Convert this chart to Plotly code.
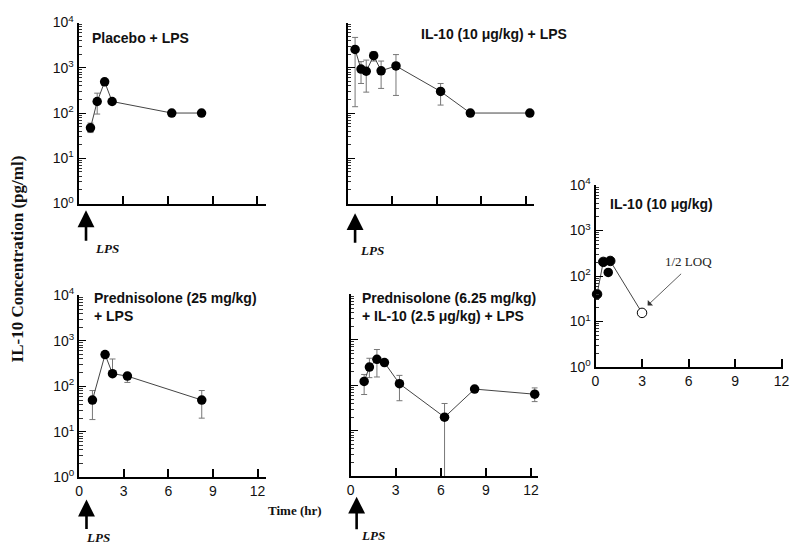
import plotly.graph_objects as go

# ---------------- data ----------------
# Panel 1: Placebo + LPS
t1 = [0.8, 1.25, 1.75, 2.25, 6.25, 8.25]
c1 = [47, 180, 490, 180, 100, 100]
c1_up = [13, 95, 0, 0, 0, 0]
c1_dn = [10, 85, 0, 0, 0, 0]

# Panel 2: IL-10 (10 ug/kg) + LPS
t2 = [0.5, 0.9, 1.25, 1.75, 2.25, 3.25, 6.25, 8.25, 12.25]
c2 = [2550, 940, 840, 1850, 860, 1100, 300, 100, 100]
c2_up = [2150, 430, 640, 450, 550, 860, 150, 0, 0]
c2_dn = [2412, 490, 550, 440, 510, 855, 150, 0, 0]

# Panel 3: Prednisolone (25 mg/kg) + LPS
t3 = [0.9, 1.75, 2.25, 3.25, 8.25]
c3 = [50, 500, 190, 168, 50]
c3_up = [31, 0, 210, 32, 31]
c3_dn = [31.4, 0, 0, 46, 30]

# Panel 4: Prednisolone (6.25 mg/kg) + IL-10 (2.5 ug/kg) + LPS
t4 = [0.9, 1.25, 1.75, 2.25, 3.25, 6.25, 8.25, 12.25]
c4 = [122, 253, 375, 318, 109, 20, 83, 64]
c4_up = [52, 142, 240, 0, 57, 20, 0, 24]
c4_dn = [59, 105, 222, 0, 63, 19.9, 0, 20]

# Panel 5: IL-10 (10 ug/kg)
t5 = [0.1, 0.5, 0.95, 3.0]
c5 = [40, 205, 215, 15.5]
t5_extra = [0.82]
c5_extra = [120]

x_ticks = [0, 3, 6, 9, 12]
x_ticklabels = ["0", "3", "6", "9", "12"]
y_ticks = [1, 10, 100, 1000, 10000]
y_ticklabels = ["10<sup>0</sup>", "10<sup>1</sup>", "10<sup>2</sup>", "10<sup>3</sup>", "10<sup>4</sup>"]
y_minor = [k * 10 ** d for d in range(4) for k in range(2, 10)]

titles = [
    "Placebo + LPS",
    "IL-10 (10 μg/kg) + LPS",
    "Prednisolone (25 mg/kg)<br>+ LPS",
    "Prednisolone (6.25 mg/kg)<br>+ IL-10 (2.5 μg/kg) + LPS",
    "IL-10 (10 μg/kg)",
]

W, H = 800, 554
SANS = "Liberation Sans, Arial, sans-serif"
SERIF = "Liberation Serif, Times New Roman, serif"

# panel pixel boxes: (x0, x1, y0_top, y1_bottom), x range max
boxes = [
    (75.5, 265, 13, 200, 12.55),
    (348, 537, 13, 200, 12.55),
    (76, 265, 295, 483, 12.55),
    (351, 540.5, 294, 482, 12.45),
    (599, 789, 181, 369, 12.1),
]
show_x_labels = [False, False, True, True, True]
show_y_labels = [True, False, True, False, True]

fig = go.Figure()

series = [(t1, c1, c1_up, c1_dn), (t2, c2, c2_up, c2_dn), (t3, c3, c3_up, c3_dn), (t4, c4, c4_up, c4_dn)]

for i, (t, c, up, dn) in enumerate(series):
    n = i + 1
    fig.add_trace(go.Scatter(
        x=t, y=c, mode="lines+markers",
        line=dict(color="#444", width=1),
        marker=dict(color="black", size=9.5),
        error_y=dict(type="data", symmetric=False, array=up, arrayminus=dn,
                     color="#777", thickness=1, width=3),
        xaxis=f"x{'' if n == 1 else n}", yaxis=f"y{'' if n == 1 else n}",
        cliponaxis=False, showlegend=False,
    ))

# Panel 5
fig.add_trace(go.Scatter(
    x=t5, y=c5, mode="lines+markers",
    line=dict(color="#444", width=1),
    marker=dict(color=["black", "black", "black", "white"], size=9.5,
                line=dict(color="black", width=1)),
    xaxis="x5", yaxis="y5", cliponaxis=False, showlegend=False,
))
fig.add_trace(go.Scatter(
    x=t5_extra, y=c5_extra, mode="markers",
    marker=dict(color="black", size=9.5),
    xaxis="x5", yaxis="y5", cliponaxis=False, showlegend=False,
))

layout = dict(
    width=W, height=H, margin=dict(l=0, r=0, t=0, b=0),
    paper_bgcolor="white", plot_bgcolor="white", showlegend=False,
    font=dict(family=SANS, size=13, color="black"),
)

annotations = []
for i, (x0, x1, y0, y1, xmax) in enumerate(boxes):
    n = i + 1
    sfx = "" if n == 1 else str(n)
    layout[f"xaxis{sfx}"] = dict(
        domain=[x0 / W, x1 / W], range=[0, xmax], anchor=f"y{sfx}",
        showline=True, linecolor="black", linewidth=2, mirror=False,
        ticks="inside", ticklen=8, tickwidth=1.5, tickcolor="black",
        tickmode="array", tickvals=x_ticks, ticktext=x_ticklabels,
        showticklabels=show_x_labels[i], showgrid=False, zeroline=False,
        tickfont=dict(family=SANS, size=14, color="#111"),
    )
    layout[f"yaxis{sfx}"] = dict(
        domain=[1 - y1 / H, 1 - y0 / H], type="log", range=[0, 4], anchor=f"x{sfx}",
        showline=True, linecolor="black", linewidth=2,
        ticks="inside", ticklen=7, tickwidth=1.2, tickcolor="black",
        tickmode="array", tickvals=y_ticks, ticktext=y_ticklabels,
        minor=dict(ticks="inside", ticklen=3.5, tickwidth=1, tickcolor="#333",
                   tickmode="array", tickvals=y_minor, showgrid=False),
        showticklabels=show_y_labels[i], showgrid=False, zeroline=False,
        tickfont=dict(family=SANS, size=14, color="#111"),
    )

# panel titles (pixel positions: left x, top-line centre y)
title_pos = [(87, 29), (420, 25), (89, 297), (360, 297), (612, 201)]
for (px, py), txt in zip(title_pos, titles):
    annotations.append(dict(
        text=f"<b>{txt}</b>", x=px / W, y=1 - py / H, xref="paper", yref="paper",
        xanchor="left", yanchor="middle" if "<br>" not in txt else "top",
        yshift=0 if "<br>" not in txt else 9,
        align="left", showarrow=False, font=dict(family=SANS, size=14, color="#111"),
    ))

# LPS arrows (head top y px, tail y px, text centre px)
lps = [("x", 0.5, 207, 239, 104, 247), ("x2", 0.5, 210, 241, 373, 249),
       ("x3", 0.5, 506, 537, 95, 545), ("x4", 0.4, 503, 537, 374, 543)]
for xr, xv, yh, yt, tx, ty in lps:
    annotations.append(dict(
        x=xv, y=1 - yh / H, xref=xr, yref="paper", text="", showarrow=True,
        ax=0, ay=yt - yh, arrowhead=2, arrowsize=1.3, arrowwidth=2.6, arrowcolor="black",
    ))
    annotations.append(dict(
        text="<b><i>LPS</i></b>", x=tx / W, y=1 - ty / H, xref="paper", yref="paper",
        xanchor="center", yanchor="middle",
        showarrow=False, font=dict(family=SERIF, size=13, color="#111"),
    ))

# 1/2 LOQ
annotations.append(dict(
    x=3.36, y=1.355, xref="x5", yref="y5", text="", showarrow=True,
    ax=35, ay=-33, arrowhead=1, arrowsize=1.6, arrowwidth=0.8, arrowcolor="#333",
))
annotations.append(dict(
    text="1/2 LOQ", x=693 / W, y=1 - 260 / H, xref="paper", yref="paper",
    xanchor="center", yanchor="middle",
    showarrow=False, font=dict(family=SERIF, size=13, color="#222"),
))

# axis titles
annotations.append(dict(
    text="<b>IL-10 Concentration (pg/ml)</b>", x=14 / W, y=1 - 257 / H,
    xref="paper", yref="paper", textangle=-90, showarrow=False,
    xanchor="center", yanchor="middle",
    font=dict(family=SERIF, size=17, color="#111"),
))
annotations.append(dict(
    text="<b>Time (hr)</b>", x=295 / W, y=1 - 517 / H, xref="paper", yref="paper",
    xanchor="center", yanchor="middle",
    showarrow=False, font=dict(family=SERIF, size=13, color="#111"),
))

layout["annotations"] = annotations
fig.update_layout(**layout)
fig.write_html("out.html", config={"displayModeBar": False},
               post_script="document.body.style.margin='0';")
